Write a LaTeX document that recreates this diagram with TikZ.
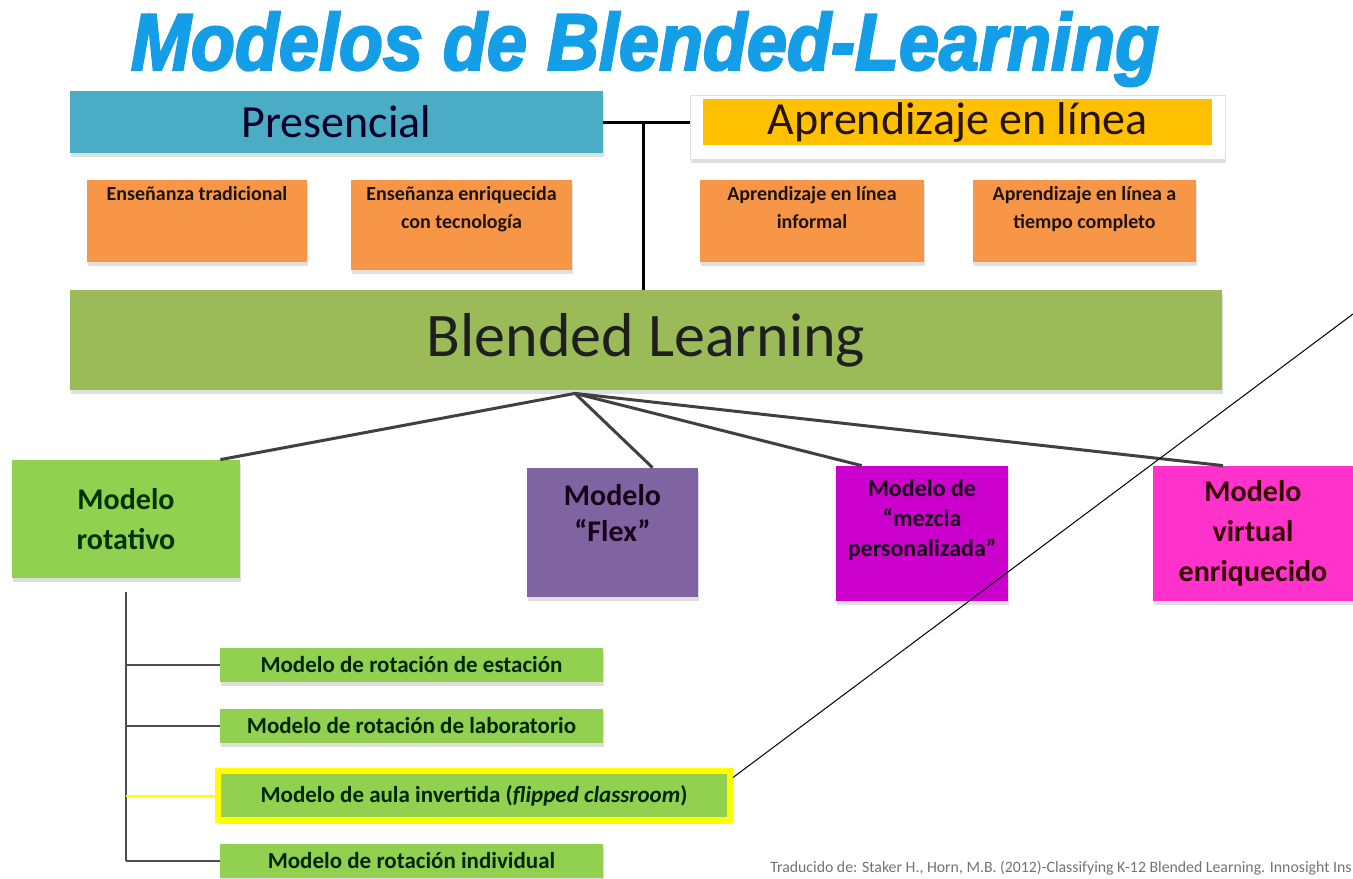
\documentclass[tikz,border=0pt]{standalone}
\usepackage{fontspec}
\setmainfont{Carlito}
\newfontfamily\titlefont[BoldItalicFeatures={FakeBold=3}]{Liberation Sans}
\usetikzlibrary{positioning, calc, shadows}

\definecolor{titleblue}{HTML}{149EE8}
\definecolor{presblue}{HTML}{4BACC6}
\definecolor{onlineyellow}{HTML}{FFC000}
\definecolor{boxorange}{HTML}{F79646}
\definecolor{blgreen}{HTML}{9BBB59}
\definecolor{rotgreen}{HTML}{92D050}
\definecolor{flexpurple}{HTML}{8064A2}
\definecolor{mixmagenta}{HTML}{CC00CC}
\definecolor{virtpink}{HTML}{FF33CC}
\definecolor{hiyellow}{HTML}{FFFF00}

\newcommand{\toptext}[4]{\parbox[c][#1][t]{#2}{\centering\vspace*{#3}#4}}

\tikzset{
    boxshadow/.style={drop shadow={shadow xshift=0.5pt, shadow yshift=-2pt, fill=black!25}},
}

\begin{document}
\begin{tikzpicture}[x=0.5pt, y=-0.5pt]
    \useasboundingbox (0,0) rectangle (1353,878);

    \node (title) at (645,49) {\titlefont\bfseries\itshape\fontsize{40}{44}\selectfont\color{titleblue}\scalebox{0.9}[1]{Modelos de Blended-Learning}};

    % Presencial / en linea
    \begin{scope}[every node/.style={rectangle, inner sep=0pt, font=\fontsize{23}{26}\selectfont}]
        \node[boxshadow, fill=presblue, minimum width=266.5pt, minimum height=31pt, text=black!85!blue] (pres) at (336.5,122) {Presencial};
        \node[boxshadow, fill=white, draw=black!12, minimum width=267.5pt, minimum height=32pt] (aprbg) at (957.5,127) {};
        \node[fill=onlineyellow, minimum width=254.5pt, minimum height=23pt, text=black!85!orange] (apr) at (957.5,122) {Aprendizaje en línea};
    \end{scope}

    \begin{scope}[every node/.style={boxshadow, fill=boxorange, inner sep=0pt, font=\bfseries\fontsize{10}{14}\selectfont, text=black!85!brown}]
        \node (trad) at (197,221) {\toptext{41pt}{110pt}{3pt}{Enseñanza tradicional}};
        \node (tecno) at (461.5,225) {\toptext{45pt}{110.5pt}{3pt}{Enseñanza enriquecida\\con tecnología}};
        \node (inform) at (812,221) {\toptext{41pt}{112pt}{3pt}{Aprendizaje en línea\\informal}};
        \node (complet) at (1084.5,221) {\toptext{41pt}{111.5pt}{3pt}{Aprendizaje en línea a\\tiempo completo}};
    \end{scope}

    \node[boxshadow, fill=blgreen, inner sep=0pt, minimum width=576pt, minimum height=50pt, font=\fontsize{31}{34}\selectfont, text=black!88] (bl) at (646,340) {Blended Learning};

    % modelos
    \begin{scope}[every node/.style={boxshadow, inner sep=0pt, align=center, font=\bfseries\fontsize{15}{18}\selectfont}]
        \node[fill=rotgreen, minimum width=114pt, minimum height=59pt, text=black!80!green] (rot) at (126,519) {Modelo\\[2pt]rotativo};
        \node[fill=flexpurple, text=black!80!violet] (flex) at (612.5,532.5) {\toptext{64.5pt}{85.5pt}{8pt}{Modelo\\“Flex”}};
        \node[fill=mixmagenta, text=black!80!violet, font=\bfseries\fontsize{12}{15}\selectfont] (mez) at (922,533.5) {\toptext{67.5pt}{86pt}{7pt}{Modelo de\\“mezcla\\personalizada”}};
        \node[fill=virtpink, minimum width=100pt, minimum height=67.5pt, text=black!80!red, font=\bfseries\fontsize{15}{20}\selectfont] (vir) at (1253,533.5) {Modelo\\virtual\\enriquecido};
    \end{scope}

    % rotacion
    \begin{scope}[every node/.style={boxshadow, fill=rotgreen, inner sep=0pt, minimum width=191.5pt, minimum height=17pt, font=\bfseries\fontsize{11.5}{13}\selectfont, text=black!85!green}]
        \node (s1) at (411.5,665) {Modelo de rotación de estación};
        \node (s2) at (411.5,725.5) {Modelo de rotación de laboratorio};
        \node[draw=hiyellow, line width=3pt, minimum width=256pt, minimum height=24.5pt] (s3) at (474,795.5) {Modelo de aula invertida (\textit{flipped classroom})};
        \node (s4) at (411.5,860.5) {Modelo de rotación individual};
    \end{scope}

    \node[anchor=west, inner sep=0pt, text=black!55, font=\fontsize{7.9}{9}\selectfont] (ref) at (770,868) {Traducido de: Staker H., Horn, M.B. (2012)-Classifying K-12 Blended Learning. Innosight Ins};

    \begin{scope}[every edge/.style={draw=black, line width=1.5pt}]
        \coordinate (tj) at ($(pres.east)!0.46!(pres.east -| aprbg.west)$);
        \path (pres.east) edge (pres.east -| aprbg.west);
        \path (tj) edge (tj |- bl.north);
    \end{scope}

    \coordinate (hub) at ([xshift=-35.5pt, yshift=-1.5pt]bl.south);
    \begin{scope}[every edge/.style={draw=black!75, line width=1.5pt}]
        \path (hub) edge ([xshift=-10pt]rot.north east);
        \path (hub) edge ([xshift=20pt]flex.north);
        \path (hub) edge ([xshift=13pt]mez.north west);
        \path (hub) edge ([xshift=-15pt]vir.north);
    \end{scope}

    \coordinate (trunk) at ([yshift=-7pt]rot.south);
    \begin{scope}[every edge/.style={draw=black!70, line width=1pt}]
        \path (trunk) edge (trunk |- s4.west);
        \path (trunk |- s1.west) edge (s1.west);
        \path (trunk |- s2.west) edge (s2.west);
        \path (trunk |- s4.west) edge (s4.west);
        \path (trunk |- s3.west) edge[draw=hiyellow] (s3.west);
    \end{scope}

    \coordinate (far) at (1353,314);
    \draw[line width=0.5pt] ([yshift=9pt]s3.east) -- (far);
\end{tikzpicture}
\end{document}
